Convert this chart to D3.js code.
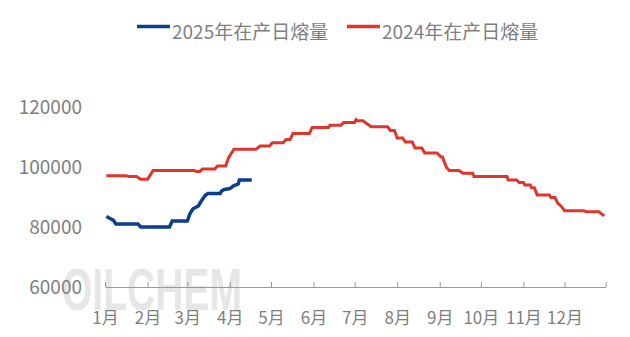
<!DOCTYPE html>
<html>
<head>
<meta charset="utf-8">
<script src="https://cdn.jsdelivr.net/npm/d3@7"></script>
<style>
  body { margin: 0; background: #fff; }
  text { font-family: "Noto Sans CJK SC", "Noto Sans", sans-serif; }
</style>
</head>
<body>
<div id="container"></div>
<script>
// month-day dates, both series are put on the same (2024) calendar
let dates2024 = ["01-02","01-16","01-19","01-24","01-27","02-01","02-05","03-06","03-08","03-10",
  "03-12","03-21","03-23","03-29","03-31","04-04","04-20","04-23","04-30","05-02",
  "05-10","05-12","05-15","05-17","05-29","05-31","06-12","06-13","06-21","06-23",
  "07-01","07-02","07-03","07-07","07-13","07-25","07-27","07-30","08-01","08-05",
  "08-07","08-12","08-14","08-19","08-21","08-30","09-02","09-03","09-06","09-08",
  "09-15","09-18","09-25","09-26","10-20","10-21","10-27","10-29","11-01","11-02",
  "11-06","11-07","11-09","11-11","11-20","11-21","11-24","11-26","11-29","12-01",
  "12-15","12-17","12-26","12-30"];
let values2024 = [97100,97100,96800,96800,95900,95900,98800,98800,98500,98500,
  99300,99300,100300,100300,103000,105900,105900,107000,107000,108100,
  108100,109200,109200,111200,111200,113200,113200,113900,113900,114800,
  114800,115800,115400,115400,113400,113400,112200,112200,109700,109700,
  108300,108300,106300,106300,104700,104700,103300,103300,99800,98800,
  98800,97900,97900,96800,96800,95700,95700,94800,94800,94000,
  94000,93100,93100,90700,90700,89800,89800,88000,86700,85400,
  85400,85100,85100,83700];

let dates2025 = ["01-02","01-04","01-07","01-09","01-25","01-27","02-17","02-19","03-01","03-03",
  "03-05","03-09","03-11","03-14","03-16","03-25","03-26","03-28","04-01","04-04",
  "04-07","04-08","04-17"];
let values2025 = [83500,83000,82300,81000,81000,80000,80000,82000,82000,84500,
  86000,87000,88500,90500,91200,91200,92000,92500,92800,93800,
  94300,95700,95700];

let monthLabels = ["1月","2月","3月","4月","5月","6月","7月","8月","9月","10月","11月","12月"];
let yTicks = [60000, 80000, 100000, 120000];
let seriesNames = ["2025年在产日熔量", "2024年在产日熔量"];
let seriesColors = ["#0b3d91", "#e0352b"];

let w = 630;
let h = 337;

let viz = d3.select("#container")
  .append("svg")
    .attr("width", w)
    .attr("height", h)
;

let parseMD = d3.timeParse("%Y-%m-%d");
let toDate = md => parseMD("2024-" + md);

let xScale = d3.scaleTime()
  .domain([toDate("01-01"), toDate("12-31")])
  .range([105, 605.7]);
let yScale = d3.scaleLinear().domain([60000, 120000]).range([287, 107]);

// watermark
viz.append("text")
  .attr("x", 62)
  .attr("y", 310)
  .attr("font-size", 60)
  .attr("font-weight", "bold")
  .attr("textLength", 180)
  .attr("lengthAdjust", "spacingAndGlyphs")
  .attr("fill", "#e6e6e6")
  .style("font-family", "Liberation Sans, sans-serif")
  .text("OILCHEM");

// x axis
let tickDates = monthLabels.map((m, i) => new Date(2024, i, 1)).concat([toDate("12-31")]);
let xAxis = d3.axisBottom(xScale)
  .tickValues(tickDates)
  .tickSize(-5)
  .tickSizeOuter(0)
  .tickPadding(25)
  .tickFormat((d, i) => monthLabels[i] || "");
let xAxisGroup = viz.append("g")
  .attr("transform", "translate(0,287)")
  .call(xAxis);
xAxisGroup.select(".domain").attr("stroke", "#999");
xAxisGroup.selectAll(".tick line").attr("stroke", "#999");
xAxisGroup.selectAll("text")
  .attr("font-size", 17)
  .attr("fill", "#7f7f7f")
  .style("font-family", '"Noto Sans CJK SC", sans-serif');

// y axis (labels only)
let yAxis = d3.axisLeft(yScale).tickValues(yTicks).tickSize(0).tickPadding(23).tickFormat(d3.format("d"));
let yAxisGroup = viz.append("g")
  .attr("transform", "translate(105,0)")
  .call(yAxis);
yAxisGroup.select(".domain").remove();
yAxisGroup.selectAll("text")
  .attr("font-size", 19)
  .attr("fill", "#7f7f7f")
  .style("font-family", '"Noto Sans CJK SC", sans-serif');

// lines
let line = d3.line().x(d => xScale(d.date)).y(d => yScale(d.value));
let data2024 = dates2024.map((d, i) => ({date: toDate(d), value: values2024[i]}));
let data2025 = dates2025.map((d, i) => ({date: toDate(d), value: values2025[i]}));

viz.append("path")
  .datum(data2024)
  .attr("d", line)
  .attr("fill", "none")
  .attr("stroke", seriesColors[1])
  .attr("stroke-width", 3);

viz.append("path")
  .datum(data2025)
  .attr("d", line)
  .attr("fill", "none")
  .attr("stroke", seriesColors[0])
  .attr("stroke-width", 3.5);

// legend
let legendX = [137, 347];
let legend = viz.selectAll(".legendItem").data(seriesNames).enter()
  .append("g")
    .attr("class", "legendItem")
    .attr("transform", (d, i) => "translate(" + legendX[i] + ",0)");
legend.append("line")
  .attr("x1", 0).attr("x2", 33)
  .attr("y1", 26.5).attr("y2", 26.5)
  .attr("stroke", (d, i) => seriesColors[i])
  .attr("stroke-width", 3.5);
legend.append("text")
  .attr("x", 35)
  .attr("y", 39)
  .attr("font-size", 19)
  .attr("fill", "#7f7f7f")
  .text(d => d);
</script>
</body>
</html>
